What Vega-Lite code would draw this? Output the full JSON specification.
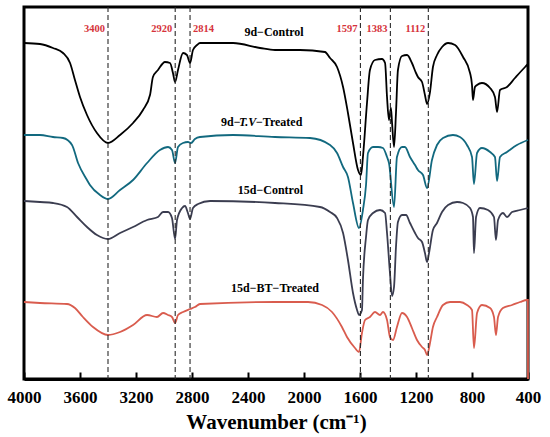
{
  "$schema": "https://vega.github.io/schema/vega-lite/v6.json",
  "autosize": "none",
  "width": 504,
  "height": 372,
  "padding": {"left": 24, "top": 7, "right": 22, "bottom": 58},
  "background": "white",
  "datasets": {
    "spectra": [
      {"s": "9d-Control", "wn": 4000, "v": 336}, {"s": "9d-Control", "wn": 3886, "v": 335}, {"s": "9d-Control", "wn": 3793, "v": 331},
      {"s": "9d-Control", "wn": 3721, "v": 326}, {"s": "9d-Control", "wn": 3671, "v": 316}, {"s": "9d-Control", "wn": 3636, "v": 299},
      {"s": "9d-Control", "wn": 3600, "v": 282}, {"s": "9d-Control", "wn": 3550, "v": 264}, {"s": "9d-Control", "wn": 3479, "v": 246},
      {"s": "9d-Control", "wn": 3400, "v": 236}, {"s": "9d-Control", "wn": 3314, "v": 244}, {"s": "9d-Control", "wn": 3221, "v": 256},
      {"s": "9d-Control", "wn": 3150, "v": 269}, {"s": "9d-Control", "wn": 3100, "v": 284}, {"s": "9d-Control", "wn": 3079, "v": 302},
      {"s": "9d-Control", "wn": 3043, "v": 309}, {"s": "9d-Control", "wn": 2993, "v": 317}, {"s": "9d-Control", "wn": 2957, "v": 316},
      {"s": "9d-Control", "wn": 2936, "v": 306}, {"s": "9d-Control", "wn": 2921, "v": 297}, {"s": "9d-Control", "wn": 2900, "v": 309},
      {"s": "9d-Control", "wn": 2864, "v": 326}, {"s": "9d-Control", "wn": 2836, "v": 324}, {"s": "9d-Control", "wn": 2814, "v": 316},
      {"s": "9d-Control", "wn": 2793, "v": 329}, {"s": "9d-Control", "wn": 2764, "v": 334}, {"s": "9d-Control", "wn": 2743, "v": 336},
      {"s": "9d-Control", "wn": 2507, "v": 336}, {"s": "9d-Control", "wn": 2314, "v": 331}, {"s": "9d-Control", "wn": 2207, "v": 329},
      {"s": "9d-Control", "wn": 2029, "v": 329}, {"s": "9d-Control", "wn": 1850, "v": 327}, {"s": "9d-Control", "wn": 1814, "v": 321},
      {"s": "9d-Control", "wn": 1764, "v": 312}, {"s": "9d-Control", "wn": 1721, "v": 292}, {"s": "9d-Control", "wn": 1686, "v": 266},
      {"s": "9d-Control", "wn": 1650, "v": 236}, {"s": "9d-Control", "wn": 1614, "v": 209}, {"s": "9d-Control", "wn": 1593, "v": 204},
      {"s": "9d-Control", "wn": 1579, "v": 222}, {"s": "9d-Control", "wn": 1550, "v": 276}, {"s": "9d-Control", "wn": 1529, "v": 309},
      {"s": "9d-Control", "wn": 1493, "v": 319}, {"s": "9d-Control", "wn": 1443, "v": 320}, {"s": "9d-Control", "wn": 1421, "v": 316},
      {"s": "9d-Control", "wn": 1407, "v": 282}, {"s": "9d-Control", "wn": 1393, "v": 259}, {"s": "9d-Control", "wn": 1379, "v": 271},
      {"s": "9d-Control", "wn": 1371, "v": 256}, {"s": "9d-Control", "wn": 1357, "v": 232}, {"s": "9d-Control", "wn": 1343, "v": 266},
      {"s": "9d-Control", "wn": 1329, "v": 309}, {"s": "9d-Control", "wn": 1300, "v": 323}, {"s": "9d-Control", "wn": 1264, "v": 324},
      {"s": "9d-Control", "wn": 1229, "v": 316}, {"s": "9d-Control", "wn": 1200, "v": 306}, {"s": "9d-Control", "wn": 1186, "v": 302},
      {"s": "9d-Control", "wn": 1157, "v": 297}, {"s": "9d-Control", "wn": 1136, "v": 284}, {"s": "9d-Control", "wn": 1121, "v": 275},
      {"s": "9d-Control", "wn": 1100, "v": 287}, {"s": "9d-Control", "wn": 1079, "v": 312}, {"s": "9d-Control", "wn": 1050, "v": 324},
      {"s": "9d-Control", "wn": 1014, "v": 332}, {"s": "9d-Control", "wn": 971, "v": 336}, {"s": "9d-Control", "wn": 921, "v": 334},
      {"s": "9d-Control", "wn": 864, "v": 322}, {"s": "9d-Control", "wn": 814, "v": 306}, {"s": "9d-Control", "wn": 800, "v": 294},
      {"s": "9d-Control", "wn": 793, "v": 279}, {"s": "9d-Control", "wn": 779, "v": 292}, {"s": "9d-Control", "wn": 764, "v": 294},
      {"s": "9d-Control", "wn": 729, "v": 296}, {"s": "9d-Control", "wn": 671, "v": 291}, {"s": "9d-Control", "wn": 636, "v": 282},
      {"s": "9d-Control", "wn": 621, "v": 267}, {"s": "9d-Control", "wn": 600, "v": 289}, {"s": "9d-Control", "wn": 550, "v": 292},
      {"s": "9d-Control", "wn": 493, "v": 301}, {"s": "9d-Control", "wn": 421, "v": 312}, {"s": "9d-Control", "wn": 400, "v": 315},

      {"s": "9d-TV-Treated", "wn": 4000, "v": 244}, {"s": "9d-TV-Treated", "wn": 3886, "v": 244}, {"s": "9d-TV-Treated", "wn": 3793, "v": 242},
      {"s": "9d-TV-Treated", "wn": 3721, "v": 241}, {"s": "9d-TV-Treated", "wn": 3657, "v": 234}, {"s": "9d-TV-Treated", "wn": 3614, "v": 216},
      {"s": "9d-TV-Treated", "wn": 3550, "v": 199}, {"s": "9d-TV-Treated", "wn": 3529, "v": 194}, {"s": "9d-TV-Treated", "wn": 3457, "v": 184},
      {"s": "9d-TV-Treated", "wn": 3400, "v": 180}, {"s": "9d-TV-Treated", "wn": 3314, "v": 189}, {"s": "9d-TV-Treated", "wn": 3221, "v": 199},
      {"s": "9d-TV-Treated", "wn": 3121, "v": 216}, {"s": "9d-TV-Treated", "wn": 3029, "v": 229}, {"s": "9d-TV-Treated", "wn": 2971, "v": 232},
      {"s": "9d-TV-Treated", "wn": 2943, "v": 229}, {"s": "9d-TV-Treated", "wn": 2921, "v": 216}, {"s": "9d-TV-Treated", "wn": 2900, "v": 232},
      {"s": "9d-TV-Treated", "wn": 2864, "v": 236}, {"s": "9d-TV-Treated", "wn": 2829, "v": 237}, {"s": "9d-TV-Treated", "wn": 2807, "v": 236},
      {"s": "9d-TV-Treated", "wn": 2779, "v": 240}, {"s": "9d-TV-Treated", "wn": 2743, "v": 242}, {"s": "9d-TV-Treated", "wn": 2507, "v": 244},
      {"s": "9d-TV-Treated", "wn": 2207, "v": 242}, {"s": "9d-TV-Treated", "wn": 1957, "v": 241}, {"s": "9d-TV-Treated", "wn": 1814, "v": 234},
      {"s": "9d-TV-Treated", "wn": 1764, "v": 226}, {"s": "9d-TV-Treated", "wn": 1721, "v": 212}, {"s": "9d-TV-Treated", "wn": 1686, "v": 202},
      {"s": "9d-TV-Treated", "wn": 1650, "v": 176}, {"s": "9d-TV-Treated", "wn": 1607, "v": 151}, {"s": "9d-TV-Treated", "wn": 1579, "v": 169},
      {"s": "9d-TV-Treated", "wn": 1557, "v": 194}, {"s": "9d-TV-Treated", "wn": 1543, "v": 226}, {"s": "9d-TV-Treated", "wn": 1507, "v": 232},
      {"s": "9d-TV-Treated", "wn": 1471, "v": 232}, {"s": "9d-TV-Treated", "wn": 1436, "v": 231}, {"s": "9d-TV-Treated", "wn": 1407, "v": 222},
      {"s": "9d-TV-Treated", "wn": 1393, "v": 216}, {"s": "9d-TV-Treated", "wn": 1357, "v": 172}, {"s": "9d-TV-Treated", "wn": 1336, "v": 222},
      {"s": "9d-TV-Treated", "wn": 1300, "v": 232}, {"s": "9d-TV-Treated", "wn": 1279, "v": 232}, {"s": "9d-TV-Treated", "wn": 1243, "v": 222},
      {"s": "9d-TV-Treated", "wn": 1207, "v": 214}, {"s": "9d-TV-Treated", "wn": 1186, "v": 209}, {"s": "9d-TV-Treated", "wn": 1150, "v": 204},
      {"s": "9d-TV-Treated", "wn": 1121, "v": 191}, {"s": "9d-TV-Treated", "wn": 1086, "v": 219}, {"s": "9d-TV-Treated", "wn": 1050, "v": 234},
      {"s": "9d-TV-Treated", "wn": 1007, "v": 241}, {"s": "9d-TV-Treated", "wn": 936, "v": 244}, {"s": "9d-TV-Treated", "wn": 886, "v": 242},
      {"s": "9d-TV-Treated", "wn": 836, "v": 234}, {"s": "9d-TV-Treated", "wn": 800, "v": 222}, {"s": "9d-TV-Treated", "wn": 786, "v": 195},
      {"s": "9d-TV-Treated", "wn": 764, "v": 226}, {"s": "9d-TV-Treated", "wn": 729, "v": 231}, {"s": "9d-TV-Treated", "wn": 671, "v": 227},
      {"s": "9d-TV-Treated", "wn": 636, "v": 222}, {"s": "9d-TV-Treated", "wn": 621, "v": 198}, {"s": "9d-TV-Treated", "wn": 600, "v": 222},
      {"s": "9d-TV-Treated", "wn": 550, "v": 227}, {"s": "9d-TV-Treated", "wn": 479, "v": 234}, {"s": "9d-TV-Treated", "wn": 400, "v": 239},

      {"s": "15d-Control", "wn": 4000, "v": 178}, {"s": "15d-Control", "wn": 3886, "v": 177}, {"s": "15d-Control", "wn": 3793, "v": 176},
      {"s": "15d-Control", "wn": 3693, "v": 172}, {"s": "15d-Control", "wn": 3621, "v": 162}, {"s": "15d-Control", "wn": 3550, "v": 152},
      {"s": "15d-Control", "wn": 3479, "v": 144}, {"s": "15d-Control", "wn": 3400, "v": 140}, {"s": "15d-Control", "wn": 3314, "v": 146},
      {"s": "15d-Control", "wn": 3221, "v": 152}, {"s": "15d-Control", "wn": 3121, "v": 159}, {"s": "15d-Control", "wn": 3043, "v": 162},
      {"s": "15d-Control", "wn": 3007, "v": 167}, {"s": "15d-Control", "wn": 2971, "v": 167}, {"s": "15d-Control", "wn": 2943, "v": 161},
      {"s": "15d-Control", "wn": 2921, "v": 140}, {"s": "15d-Control", "wn": 2907, "v": 159}, {"s": "15d-Control", "wn": 2871, "v": 171},
      {"s": "15d-Control", "wn": 2850, "v": 173}, {"s": "15d-Control", "wn": 2829, "v": 166}, {"s": "15d-Control", "wn": 2814, "v": 160},
      {"s": "15d-Control", "wn": 2793, "v": 171}, {"s": "15d-Control", "wn": 2757, "v": 175}, {"s": "15d-Control", "wn": 2671, "v": 178},
      {"s": "15d-Control", "wn": 2207, "v": 176}, {"s": "15d-Control", "wn": 1886, "v": 172}, {"s": "15d-Control", "wn": 1814, "v": 167},
      {"s": "15d-Control", "wn": 1764, "v": 161}, {"s": "15d-Control", "wn": 1721, "v": 146}, {"s": "15d-Control", "wn": 1686, "v": 119},
      {"s": "15d-Control", "wn": 1650, "v": 86}, {"s": "15d-Control", "wn": 1621, "v": 69}, {"s": "15d-Control", "wn": 1607, "v": 64},
      {"s": "15d-Control", "wn": 1586, "v": 69}, {"s": "15d-Control", "wn": 1579, "v": 99}, {"s": "15d-Control", "wn": 1557, "v": 142},
      {"s": "15d-Control", "wn": 1543, "v": 159}, {"s": "15d-Control", "wn": 1507, "v": 166}, {"s": "15d-Control", "wn": 1457, "v": 169},
      {"s": "15d-Control", "wn": 1421, "v": 166}, {"s": "15d-Control", "wn": 1407, "v": 146}, {"s": "15d-Control", "wn": 1386, "v": 106},
      {"s": "15d-Control", "wn": 1371, "v": 83}, {"s": "15d-Control", "wn": 1357, "v": 92}, {"s": "15d-Control", "wn": 1343, "v": 132},
      {"s": "15d-Control", "wn": 1329, "v": 157}, {"s": "15d-Control", "wn": 1300, "v": 164}, {"s": "15d-Control", "wn": 1271, "v": 164},
      {"s": "15d-Control", "wn": 1243, "v": 156}, {"s": "15d-Control", "wn": 1207, "v": 146}, {"s": "15d-Control", "wn": 1186, "v": 141},
      {"s": "15d-Control", "wn": 1157, "v": 137}, {"s": "15d-Control", "wn": 1136, "v": 126}, {"s": "15d-Control", "wn": 1121, "v": 117},
      {"s": "15d-Control", "wn": 1107, "v": 126}, {"s": "15d-Control", "wn": 1079, "v": 149}, {"s": "15d-Control", "wn": 1050, "v": 156},
      {"s": "15d-Control", "wn": 1014, "v": 167}, {"s": "15d-Control", "wn": 971, "v": 174}, {"s": "15d-Control", "wn": 907, "v": 177},
      {"s": "15d-Control", "wn": 864, "v": 176}, {"s": "15d-Control", "wn": 814, "v": 171}, {"s": "15d-Control", "wn": 793, "v": 162},
      {"s": "15d-Control", "wn": 786, "v": 126}, {"s": "15d-Control", "wn": 771, "v": 162}, {"s": "15d-Control", "wn": 743, "v": 171},
      {"s": "15d-Control", "wn": 686, "v": 169}, {"s": "15d-Control", "wn": 643, "v": 162}, {"s": "15d-Control", "wn": 629, "v": 139},
      {"s": "15d-Control", "wn": 614, "v": 159}, {"s": "15d-Control", "wn": 579, "v": 166}, {"s": "15d-Control", "wn": 550, "v": 162},
      {"s": "15d-Control", "wn": 514, "v": 167}, {"s": "15d-Control", "wn": 457, "v": 169}, {"s": "15d-Control", "wn": 400, "v": 171},

      {"s": "15d-BT-Treated", "wn": 4000, "v": 77}, {"s": "15d-BT-Treated", "wn": 3886, "v": 76}, {"s": "15d-BT-Treated", "wn": 3693, "v": 75},
      {"s": "15d-BT-Treated", "wn": 3636, "v": 71}, {"s": "15d-BT-Treated", "wn": 3579, "v": 62}, {"s": "15d-BT-Treated", "wn": 3507, "v": 52},
      {"s": "15d-BT-Treated", "wn": 3400, "v": 44}, {"s": "15d-BT-Treated", "wn": 3314, "v": 47}, {"s": "15d-BT-Treated", "wn": 3221, "v": 54},
      {"s": "15d-BT-Treated", "wn": 3121, "v": 64}, {"s": "15d-BT-Treated", "wn": 3050, "v": 62}, {"s": "15d-BT-Treated", "wn": 3007, "v": 66},
      {"s": "15d-BT-Treated", "wn": 2971, "v": 64}, {"s": "15d-BT-Treated", "wn": 2943, "v": 62}, {"s": "15d-BT-Treated", "wn": 2921, "v": 56},
      {"s": "15d-BT-Treated", "wn": 2900, "v": 64}, {"s": "15d-BT-Treated", "wn": 2864, "v": 67}, {"s": "15d-BT-Treated", "wn": 2814, "v": 70},
      {"s": "15d-BT-Treated", "wn": 2779, "v": 72}, {"s": "15d-BT-Treated", "wn": 2743, "v": 75}, {"s": "15d-BT-Treated", "wn": 2207, "v": 77},
      {"s": "15d-BT-Treated", "wn": 1971, "v": 77}, {"s": "15d-BT-Treated", "wn": 1871, "v": 74}, {"s": "15d-BT-Treated", "wn": 1800, "v": 67},
      {"s": "15d-BT-Treated", "wn": 1729, "v": 52}, {"s": "15d-BT-Treated", "wn": 1693, "v": 42}, {"s": "15d-BT-Treated", "wn": 1636, "v": 31},
      {"s": "15d-BT-Treated", "wn": 1607, "v": 27}, {"s": "15d-BT-Treated", "wn": 1586, "v": 46}, {"s": "15d-BT-Treated", "wn": 1564, "v": 59},
      {"s": "15d-BT-Treated", "wn": 1529, "v": 62}, {"s": "15d-BT-Treated", "wn": 1493, "v": 67}, {"s": "15d-BT-Treated", "wn": 1457, "v": 64},
      {"s": "15d-BT-Treated", "wn": 1436, "v": 67}, {"s": "15d-BT-Treated", "wn": 1407, "v": 59}, {"s": "15d-BT-Treated", "wn": 1386, "v": 42},
      {"s": "15d-BT-Treated", "wn": 1364, "v": 39}, {"s": "15d-BT-Treated", "wn": 1336, "v": 52}, {"s": "15d-BT-Treated", "wn": 1300, "v": 66},
      {"s": "15d-BT-Treated", "wn": 1264, "v": 62}, {"s": "15d-BT-Treated", "wn": 1229, "v": 51}, {"s": "15d-BT-Treated", "wn": 1193, "v": 39},
      {"s": "15d-BT-Treated", "wn": 1157, "v": 32}, {"s": "15d-BT-Treated", "wn": 1136, "v": 29}, {"s": "15d-BT-Treated", "wn": 1121, "v": 24},
      {"s": "15d-BT-Treated", "wn": 1100, "v": 36}, {"s": "15d-BT-Treated", "wn": 1079, "v": 52}, {"s": "15d-BT-Treated", "wn": 1050, "v": 62},
      {"s": "15d-BT-Treated", "wn": 1007, "v": 74}, {"s": "15d-BT-Treated", "wn": 957, "v": 77}, {"s": "15d-BT-Treated", "wn": 886, "v": 77},
      {"s": "15d-BT-Treated", "wn": 836, "v": 74}, {"s": "15d-BT-Treated", "wn": 800, "v": 69}, {"s": "15d-BT-Treated", "wn": 786, "v": 31},
      {"s": "15d-BT-Treated", "wn": 764, "v": 66}, {"s": "15d-BT-Treated", "wn": 729, "v": 74}, {"s": "15d-BT-Treated", "wn": 671, "v": 71},
      {"s": "15d-BT-Treated", "wn": 643, "v": 62}, {"s": "15d-BT-Treated", "wn": 629, "v": 44}, {"s": "15d-BT-Treated", "wn": 614, "v": 62},
      {"s": "15d-BT-Treated", "wn": 579, "v": 71}, {"s": "15d-BT-Treated", "wn": 514, "v": 74}, {"s": "15d-BT-Treated", "wn": 457, "v": 77},
      {"s": "15d-BT-Treated", "wn": 407, "v": 79}, {"s": "15d-BT-Treated", "wn": 401, "v": 79}, {"s": "15d-BT-Treated", "wn": 400, "v": 0}
    ],
    "peaks": [
      {"wn": 3400, "label": "3400", "side": "left"},
      {"wn": 2920, "label": "2920", "side": "left"},
      {"wn": 2814, "label": "2814", "side": "right"},
      {"wn": 1597, "label": "1597", "side": "left"},
      {"wn": 1383, "label": "1383", "side": "left"},
      {"wn": 1112, "label": "1112", "side": "left"}
    ],
    "names": [
      {"wn": 2214, "v": 347, "label": "9d−Control"},
      {"wn": 2240, "v": 189, "label": "15d−Control"},
      {"wn": 2207, "v": 91, "label": "15d−BT−Treated"}
    ],
    "tvname": [
      {"wn": 2593, "v": 257, "label": "9d−", "part": "a"},
      {"wn": 2464, "v": 257, "label": "T.V", "part": "b"},
      {"wn": 2343, "v": 257, "label": "−Treated", "part": "c"}
    ]
  },
  "layer": [
    {
      "data": {"name": "spectra"},
      "mark": {"type": "line", "strokeWidth": 1.8, "interpolate": "monotone", "clip": false},
      "encoding": {
        "x": {
          "field": "wn",
          "type": "quantitative",
          "scale": {"domain": [4000, 400], "nice": false, "zero": false},
          "axis": {
            "title": "Wavenumber (cm⁻¹)",
            "values": [4000, 3800, 3600, 3400, 3200, 3000, 2800, 2600, 2400, 2200, 2000, 1800, 1600, 1400, 1200, 1000, 800, 600, 400],
            "labelExpr": "datum.value % 400 === 0 ? datum.value : ''",
            "labelFont": "Liberation Serif, serif",
            "labelFontSize": 17,
            "labelFontWeight": "bold",
            "labelColor": "black",
            "labelPadding": 17,
            "labelFlush": false,
            "labelOverlap": false,
            "domainColor": "black",
            "domainWidth": 3,
            "tickColor": "black",
            "tickWidth": 2,
            "tickSize": {"condition": {"test": "datum.value % 400 === 0", "value": -7}, "value": -4},
            "grid": false,
            "titleFont": "Liberation Serif, serif",
            "titleFontSize": 21,
            "titleFontWeight": "bold",
            "titleColor": "black",
            "titlePadding": 6
          }
        },
        "y": {
          "field": "v",
          "type": "quantitative",
          "scale": {"domain": [0, 372], "nice": false, "zero": false},
          "axis": null
        },
        "color": {
          "field": "s",
          "type": "nominal",
          "scale": {
            "domain": ["9d-Control", "9d-TV-Treated", "15d-Control", "15d-BT-Treated"],
            "range": ["#000000", "#12697f", "#3b3d50", "#d95c4e"]
          },
          "legend": null
        }
      }
    },
    {
      "data": {"name": "peaks"},
      "mark": {"type": "rule", "color": "#2a2a2a", "strokeWidth": 1.1, "strokeDash": [5, 3]},
      "encoding": {"x": {"field": "wn", "type": "quantitative"}}
    },
    {
      "data": {"name": "peaks"},
      "transform": [{"filter": "datum.side === 'left'"}],
      "mark": {"type": "text", "align": "right", "baseline": "middle", "dx": -3, "font": "Liberation Serif, serif", "fontSize": 10.5, "fontWeight": "bold", "color": "#d6333b"},
      "encoding": {
        "x": {"field": "wn", "type": "quantitative"},
        "y": {"datum": 350, "type": "quantitative"},
        "text": {"field": "label"}
      }
    },
    {
      "data": {"name": "peaks"},
      "transform": [{"filter": "datum.side === 'right'"}],
      "mark": {"type": "text", "align": "left", "baseline": "middle", "dx": 3, "font": "Liberation Serif, serif", "fontSize": 10.5, "fontWeight": "bold", "color": "#d6333b"},
      "encoding": {
        "x": {"field": "wn", "type": "quantitative"},
        "y": {"datum": 350, "type": "quantitative"},
        "text": {"field": "label"}
      }
    },
    {
      "data": {"name": "names"},
      "mark": {"type": "text", "align": "center", "baseline": "middle", "font": "Liberation Serif, serif", "fontSize": 12, "fontWeight": "bold", "color": "black"},
      "encoding": {
        "x": {"field": "wn", "type": "quantitative"},
        "y": {"field": "v", "type": "quantitative"},
        "text": {"field": "label"}
      }
    },
    {
      "data": {"name": "tvname"},
      "transform": [{"filter": "datum.part !== 'b'"}],
      "mark": {"type": "text", "align": "left", "baseline": "middle", "font": "Liberation Serif, serif", "fontSize": 12, "fontWeight": "bold", "color": "black"},
      "encoding": {
        "x": {"field": "wn", "type": "quantitative"},
        "y": {"field": "v", "type": "quantitative"},
        "text": {"field": "label"}
      }
    },
    {
      "data": {"name": "tvname"},
      "transform": [{"filter": "datum.part === 'b'"}],
      "mark": {"type": "text", "align": "left", "baseline": "middle", "font": "Liberation Serif, serif", "fontSize": 12, "fontWeight": "bold", "fontStyle": "italic", "color": "black"},
      "encoding": {
        "x": {"field": "wn", "type": "quantitative"},
        "y": {"field": "v", "type": "quantitative"},
        "text": {"field": "label"}
      }
    }
  ],
  "config": {
    "view": {"stroke": "black", "strokeWidth": 3}
  }
}
